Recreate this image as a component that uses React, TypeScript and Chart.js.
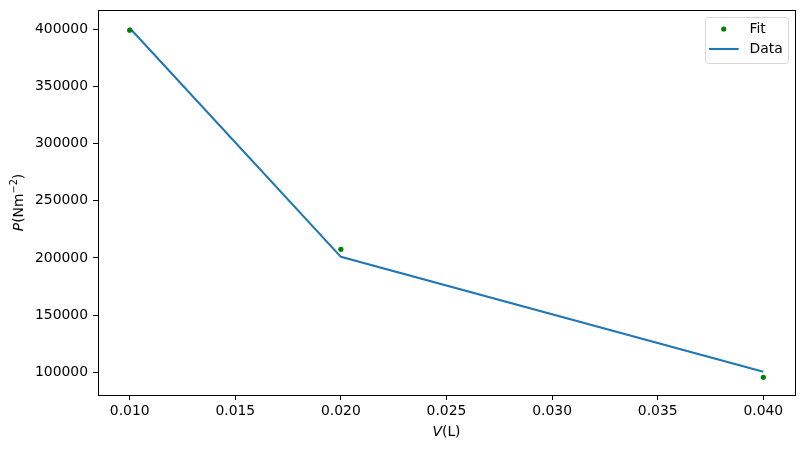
import React, { useEffect, useRef } from "react";
import { Chart, registerables } from "chart.js";

Chart.register(...registerables);

const volumes = [0.01, 0.02, 0.04];
const fitPressure = [399300, 207500, 95500];
const dataPressure = [401200, 200900, 100400];
const xTickValues = [0.01, 0.015, 0.02, 0.025, 0.03, 0.035, 0.04];
const yTickValues = [100000, 150000, 200000, 250000, 300000, 350000, 400000];
const seriesNames = ["Fit", "Data"];

const FONT = "DejaVu Sans";
const FS = 13.9;

const titlesAndLegend = {
  id: "titlesAndLegend",
  afterDraw(chart: any) {
    const ctx = chart.ctx;
    const area = chart.chartArea;
    ctx.save();
    // frame
    ctx.strokeStyle = "#000";
    ctx.lineWidth = 1;
    ctx.strokeRect(
      Math.round(area.left) + 0.5,
      Math.round(area.top) + 0.5,
      Math.round(area.right) - Math.round(area.left),
      Math.round(area.bottom) - Math.round(area.top)
    );
    ctx.fillStyle = "#000";
    ctx.textBaseline = "middle";
    // x title: V(L)
    const xa = `italic ${FS}px "${FONT}"`;
    const xr = `${FS}px "${FONT}"`;
    ctx.font = xa;
    const wV = ctx.measureText("V").width;
    ctx.font = xr;
    const wL = ctx.measureText("(L)").width;
    let x0 = (area.left + area.right) / 2 - (wV + wL) / 2;
    const yT = 432;
    ctx.textAlign = "left";
    ctx.font = xa;
    ctx.fillText("V", x0, yT);
    ctx.font = xr;
    ctx.fillText("(L)", x0 + wV, yT);

    // y title: P(Nm^-2)
    ctx.save();
    const cy = (area.top + area.bottom) / 2;
    ctx.translate(19, cy);
    ctx.rotate(-Math.PI / 2);
    const sup = `${FS * 0.7}px "${FONT}"`;
    ctx.font = xa;
    const wP = ctx.measureText("P").width;
    ctx.font = xr;
    const wN = ctx.measureText("(Nm").width;
    ctx.font = sup;
    const wS = ctx.measureText("\u22122").width;
    ctx.font = xr;
    const wC = ctx.measureText(")").width;
    let px = -(wP + wN + wS + wC) / 2;
    ctx.font = xa;
    ctx.fillText("P", px, 0);
    px += wP;
    ctx.font = xr;
    ctx.fillText("(Nm", px, 0);
    px += wN;
    ctx.font = sup;
    ctx.fillText("\u22122", px, -5);
    px += wS;
    ctx.font = xr;
    ctx.fillText(")", px, 0);
    ctx.restore();

    // legend
    const bx = 705.5, by = 17.5, bw = 83, bh = 46, r = 3;
    ctx.beginPath();
    ctx.moveTo(bx + r, by);
    ctx.lineTo(bx + bw - r, by);
    ctx.arcTo(bx + bw, by, bx + bw, by + r, r);
    ctx.lineTo(bx + bw, by + bh - r);
    ctx.arcTo(bx + bw, by + bh, bx + bw - r, by + bh, r);
    ctx.lineTo(bx + r, by + bh);
    ctx.arcTo(bx, by + bh, bx, by + bh - r, r);
    ctx.lineTo(bx, by + r);
    ctx.arcTo(bx, by, bx + r, by, r);
    ctx.closePath();
    ctx.fillStyle = "rgba(255,255,255,0.8)";
    ctx.fill();
    ctx.strokeStyle = "#d6d6d6";
    ctx.lineWidth = 1;
    ctx.stroke();

    ctx.fillStyle = "#008000";
    ctx.beginPath();
    ctx.arc(723.7, 29, 2.6, 0, Math.PI * 2);
    ctx.fill();
    ctx.strokeStyle = "#1f77b4";
    ctx.lineWidth = 2.1;
    ctx.beginPath();
    ctx.moveTo(709, 49);
    ctx.lineTo(738.7, 49);
    ctx.stroke();
    ctx.fillStyle = "#000";
    ctx.font = xr;
    ctx.textAlign = "left";
    ctx.fillText(seriesNames[0], 749.5, 29);
    ctx.fillText(seriesNames[1], 749.5, 49);
    ctx.restore();
  },
};

export default function App() {
  const ref = useRef<HTMLCanvasElement>(null);
  useEffect(() => {
    if (!ref.current) return;
    const chart = new Chart(ref.current, {
      type: "scatter",
      data: {
        datasets: [
          {
            label: seriesNames[0],
            data: volumes.map((v, i) => ({ x: v, y: fitPressure[i] })),
            showLine: false,
            pointRadius: 2.6,
            pointBackgroundColor: "#008000",
            pointBorderWidth: 0,
            backgroundColor: "#008000",
            borderColor: "#008000",
          },
          {
            label: seriesNames[1],
            data: volumes.map((v, i) => ({ x: v, y: dataPressure[i] })),
            showLine: true,
            pointRadius: 0,
            borderColor: "#1f77b4",
            borderWidth: 2.1,
            backgroundColor: "#1f77b4",
          },
        ],
      },
      options: {
        animation: false,
        responsive: false,
        devicePixelRatio: 1,
        layout: { padding: { left: 0, top: 10, right: 10, bottom: 0 } },
        plugins: { legend: { display: false }, tooltip: { enabled: false } },
        scales: {
          x: {
            type: "linear",
            min: 0.0085,
            max: 0.0415,
            afterFit(scale: any) {
              scale.height = 55;
            },
            afterBuildTicks(scale: any) {
              scale.ticks = xTickValues.map((v) => ({ value: v }));
            },
            ticks: {
              callback: (v: any) => Number(v).toFixed(3),
              font: { family: FONT, size: FS },
              color: "#000",
              padding: 3,
              maxRotation: 0,
              autoSkip: false,
            },
            grid: {
              drawOnChartArea: false,
              drawTicks: true,
              tickLength: 5,
              tickColor: "#000",
              tickWidth: 1,
            },
            border: { display: false },
          },
          y: {
            type: "linear",
            min: 80000,
            max: 417000,
            afterFit(scale: any) {
              scale.width = 98;
              scale.paddingTop = 0;
              scale.paddingBottom = 0;
            },
            afterBuildTicks(scale: any) {
              scale.ticks = yTickValues.map((v) => ({ value: v }));
            },
            ticks: {
              callback: (v: any) => String(Math.round(Number(v))),
              font: { family: FONT, size: FS },
              color: "#000",
              padding: 5,
              autoSkip: false,
            },
            grid: {
              drawOnChartArea: false,
              drawTicks: true,
              tickLength: 5,
              tickColor: "#000",
              tickWidth: 1,
            },
            border: { display: false },
          },
        },
      },
      plugins: [titlesAndLegend],
    } as any);
    return () => chart.destroy();
  }, []);
  return (
    <div style={{ position: "fixed", left: 0, top: 0, width: 805, height: 450, background: "#fff" }}>
      <canvas ref={ref} width={805} height={450} style={{ width: 805, height: 450 }} />
    </div>
  );
}
